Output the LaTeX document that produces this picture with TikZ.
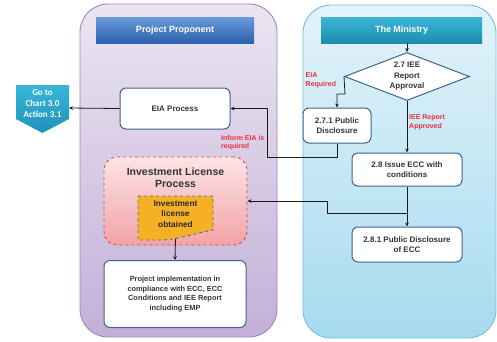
\documentclass[tikz,border=0pt]{standalone}
\usepackage{fontspec}
\setmainfont{Liberation Sans}
\newfontfamily\calib{Carlito}
\usetikzlibrary{shapes.geometric,arrows.meta}
\definecolor{boxline}{HTML}{41628F}
\definecolor{txtgray}{HTML}{333333}
\definecolor{lblred}{HTML}{E8303A}
\definecolor{linecol}{HTML}{1A1A1A}
\definecolor{pplineC}{HTML}{9E85C0}
\definecolor{pptopC}{HTML}{EBE5F1}
\definecolor{ppbotC}{HTML}{C3B0D8}
\definecolor{mlineC}{HTML}{6EC0DC}
\definecolor{mtopC}{HTML}{E3F3FA}
\definecolor{mbotC}{HTML}{A6DBEF}
\definecolor{pphtopC}{HTML}{6A9ADA}
\definecolor{pphbotC}{HTML}{2C62AD}
\definecolor{mhtopC}{HTML}{3DB6D8}
\definecolor{mhbotC}{HTML}{1A8DB0}
\definecolor{gotopC}{HTML}{38B6D8}
\definecolor{gobotC}{HTML}{1E92BA}
\definecolor{ilplineC}{HTML}{D9464A}
\definecolor{ilptopC}{HTML}{FCE4E4}
\definecolor{ilpbotC}{HTML}{F2A3A6}
\definecolor{ilolineC}{HTML}{4A6FA0}
\definecolor{ilofillC}{HTML}{F5B026}
\definecolor{ilotxtC}{HTML}{2B2B2B}
\tikzset{
  panel/.style={draw, line width=0.9pt, rounded corners=28pt, inner sep=0pt},
  header/.style={inner sep=0pt, text=white, font=\bfseries\fontsize{9}{11}\selectfont},
  stepbox/.style={draw=boxline, line width=1pt, fill=white, rounded corners=6pt, inner sep=1pt,
     align=center, text=txtgray, font=\bfseries\fontsize{8}{9.6}\selectfont},
  redlbl/.style={text=lblred, font=\bfseries\fontsize{7}{8.4}\selectfont, align=left, inner sep=0pt},
  conn/.style={draw=linecol, line width=0.8pt},
  arr/.style={conn, -{Stealth[length=4pt,width=3.6pt]}}
}
\begin{document}
\begin{tikzpicture}[x=1pt,y=-1pt]
\useasboundingbox (0,0) rectangle (497,341);
% panels
\node[panel, draw=pplineC, top color=pptopC, bottom color=ppbotC,
  minimum width=197pt, minimum height=333pt] (ppan) at (178.5,170.5) {};
\node[panel, draw=mlineC, top color=mtopC, bottom color=mbotC,
  minimum width=193pt, minimum height=333pt] (mpan) at (399.5,171.5) {};
% headers
\node[header, top color=pphtopC, bottom color=pphbotC, minimum width=158pt, minimum height=26pt]
  (pphead) at (175,30) {Project Proponent};
\node[header, top color=mhtopC, bottom color=mhbotC, minimum width=161pt, minimum height=26pt]
  (minhead) at (401.5,30) {The Ministry};
% go to connector
\shade[top color=gotopC, bottom color=gobotC]
  (16,85) -- (69,85) -- (69,119) -- (42.5,133) -- (16,119) -- cycle;
\node[text=white, align=center, inner sep=0pt, font=\calib\bfseries\fontsize{9}{11}\selectfont]
  (gotxt) at (42.5,104) {Go to\\Chart 3.0\\Action 3.1};
\coordinate (gotoE) at (69,108);
% proponent side
\node[stepbox, minimum width=110pt, minimum height=41pt] (eia) at (175,108.5) {EIA Process};
\node[draw=ilplineC, dashed, line width=0.9pt, rounded corners=13pt, top color=ilptopC, bottom color=ilpbotC,
  minimum width=143pt, minimum height=88pt, inner sep=0pt] (ilp) at (175.5,201) {};
\node[text=txtgray, align=center, inner sep=0pt, font=\bfseries\fontsize{10.5}{12}\selectfont]
  (ilptxt) at (175.5,177.5) {Investment License\\Process};
\filldraw[draw=ilolineC, dashed, line width=0.9pt, fill=ilofillC]
  (138,196) -- (213,196) -- (213,230) .. controls (195,233) and (178,240) .. (160,240) -- (138,240) -- cycle;
\node[text=ilotxtC, align=center, inner sep=0pt, font=\bfseries\fontsize{8.3}{10.8}\selectfont]
  (ilotxt) at (175.5,214) {Investment\\license\\obtained};
\coordinate (ilobot) at (175.5,238.5);
\node[stepbox, minimum width=142pt, minimum height=67pt, font=\bfseries\fontsize{7.4}{9.6}\selectfont]
  (impl) at (175,294) {Project implementation in\\compliance with ECC, ECC\\Conditions and IEE Report\\including EMP};
% ministry side
\node[draw=boxline, line width=1pt, fill=white, shape=diamond, aspect=2.6, inner sep=0pt,
  minimum width=125pt, minimum height=48pt, align=center, text=txtgray,
  font=\bfseries\fontsize{8}{10.5}\selectfont] (dia) at (407,76.5) {2.7 IEE\\Report\\Approval};
\node[stepbox, minimum width=68pt, minimum height=35pt] (pd271) at (337,125.5) {2.7.1 Public\\Disclosure};
\node[stepbox, minimum width=110pt, minimum height=33pt] (ecc28) at (407,169.5) {2.8 Issue ECC with\\conditions};
\node[stepbox, minimum width=110pt, minimum height=35pt] (pd281) at (407,244.5) {2.8.1 Public Disclosure\\of ECC};
% labels
\node[redlbl, anchor=west] (lbleia) at (305.5,80.5) {EIA\\Required};
\node[redlbl, anchor=west] (lbliee) at (409,122.5) {IEE Report\\Approved};
\node[redlbl, anchor=west] (lblinf) at (221,142.5) {Inform EIA is\\required};
% connectors
\coordinate (j1) at (267,157);
\coordinate (j2) at (327,213);
\coordinate (j3) at (345,94);
\draw[arr] (dia.north |- minhead.south) -- (dia.north);
\draw[arr] (eia.west) -- (gotoE);
\draw[arr] (dia.west) -- (j3) -| (pd271.north);
\draw[arr] (dia.south) -- (ecc28.north);
\draw[arr] (pd271.south) |- (j1) |- (eia.east);
\draw[arr] (ecc28.south) -- (pd281.north);
\draw[arr] (ecc28.south |- j2) -- (j2) |- (ilp.east);
\draw[arr] (ilobot) -- (impl.north);
\end{tikzpicture}
\end{document}
